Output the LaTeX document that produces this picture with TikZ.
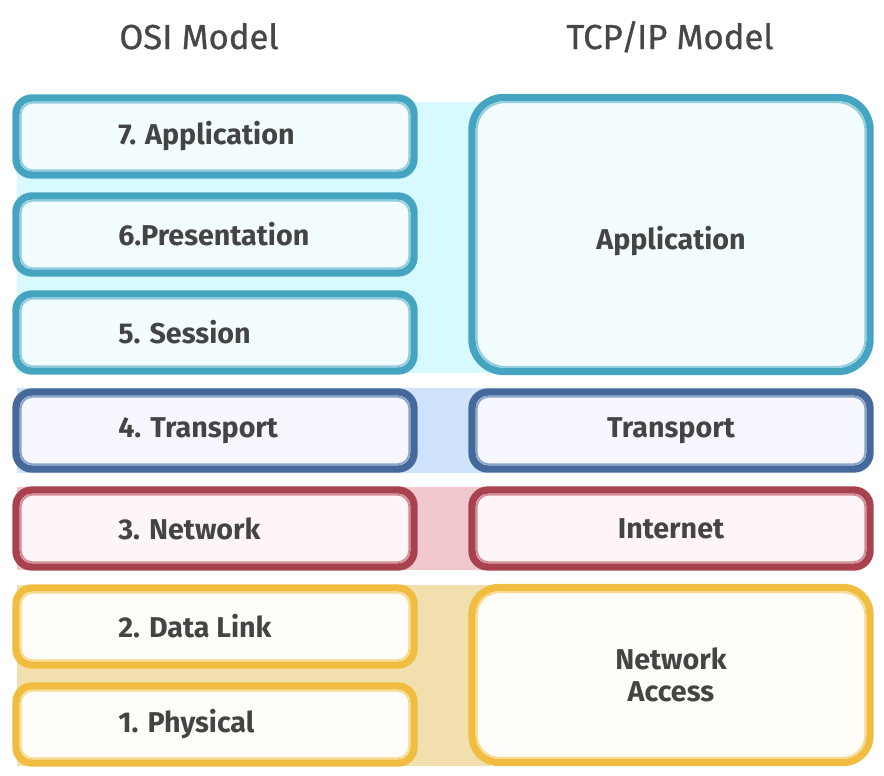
\documentclass[tikz,border=0pt]{standalone}
\usepackage{fontspec}
\setmainfont{Fira Sans}
\newfontfamily\headfont{Fira Sans}[FakeBold=0.8]
\usetikzlibrary{positioning}

\definecolor{ink}{HTML}{444444}
\definecolor{head}{HTML}{474747}
\definecolor{app}{HTML}{45A5C1}
\definecolor{applight}{HTML}{92CEDE}
\definecolor{appfill}{HTML}{F3FCFF}
\definecolor{appband}{HTML}{D6FAFF}
\definecolor{trans}{HTML}{45699A}
\definecolor{translight}{HTML}{8CA5CB}
\definecolor{transfill}{HTML}{F6F7FF}
\definecolor{transband}{HTML}{CFE3FC}
\definecolor{net}{HTML}{A8424F}
\definecolor{netlight}{HTML}{D38E97}
\definecolor{netfill}{HTML}{FEF5F8}
\definecolor{netband}{HTML}{EFC7CD}
\definecolor{link}{HTML}{F1BD40}
\definecolor{linklight}{HTML}{F8DA90}
\definecolor{linkfill}{HTML}{FEFDF8}
\definecolor{linkband}{HTML}{F1DFAD}

\begin{document}
\begin{tikzpicture}[x=0.75pt,y=-0.75pt,
	layer/.style={draw=#1,line width=5.5pt,fill=#1fill,rounded corners=12pt,inner sep=0pt,outer sep=0pt,
		text=ink,font=\bfseries\fontsize{21.5}{24}\selectfont,align=center},
	osi/.style={layer=#1,minimum width=298.5pt,minimum height=57.75pt},
	tcp/.style={layer=#1,minimum width=298.5pt,minimum height=57.75pt},
	lbl/.style={inner sep=0pt,text=ink,font=\bfseries\fontsize{21.5}{24}\selectfont},
	title/.style={anchor=base,text=head,font=\headfont\fontsize{26}{30}\selectfont}]
	\useasboundingbox (0,0) rectangle (884,775);

	% bands behind the rows
	\fill[appband] (17,102) rectangle (490,373);
	\fill[transband] (17,388) rectangle (490,473);
	\fill[netband] (17,487) rectangle (490,570);
	\fill[linkband] (17,585) rectangle (490,766);

	\node[title](osi) at (199,49) {OSI Model};
	\node[title](tcpip) at (670,49) {TCP/\kern-1.5pt IP Model};

	% OSI layers
	\node[osi=app](l7) at (215,136.5) {};
	\node[osi=app](l6) at (215,234.5) {};
	\node[osi=app](l5) at (215,332.5) {};
	\node[osi=trans](l4) at (215,430.5) {};
	\node[osi=net](l3) at (215,528.5) {};
	\node[osi=link](l2) at (215,626.5) {};
	\node[osi=link](l1) at (215,724.5) {};

	% TCP/IP layers
	\node[tcp=app,minimum height=205.5pt,rounded corners=24pt,text height=28pt](tapp) at (671,234.5) {Application};
	\node[tcp=trans](ttrans) at (671,430.5) {Transport};
	\node[tcp=net](tnet) at (671,528.5) {Internet};
	\node[tcp=link,minimum height=131.25pt,rounded corners=20pt](tacc) at (671,675) {Network\\Access};

	% inner light rim
	\foreach \n/\c/\r in {l7/app/9,l6/app/9,l5/app/9,l4/trans/9,l3/net/9,l2/link/9,l1/link/9,
		tapp/app/21,ttrans/trans/9,tnet/net/9,tacc/link/17}
		\draw[\c light,line width=1.5pt,rounded corners=\r pt] ([shift={(3.5pt,3.5pt)}]\n.south west) rectangle ([shift={(-3.5pt,-3.5pt)}]\n.north east);

	\node[lbl,right=76.5pt of l7.west](t7) {7. Application};
	\node[lbl,right=76.5pt of l6.west](t6) {6.Presentation};
	\node[lbl,right=76.5pt of l5.west](t5) {5. Session};
	\node[lbl,right=76.5pt of l4.west](t4) {4. Transport};
	\node[lbl,right=76.5pt of l3.west](t3) {3. Network};
	\node[lbl,right=76.5pt of l2.west](t2) {2. Data Link};
	\node[lbl,right=76.5pt of l1.west](t1) {1. Physical};
\end{tikzpicture}
\end{document}
